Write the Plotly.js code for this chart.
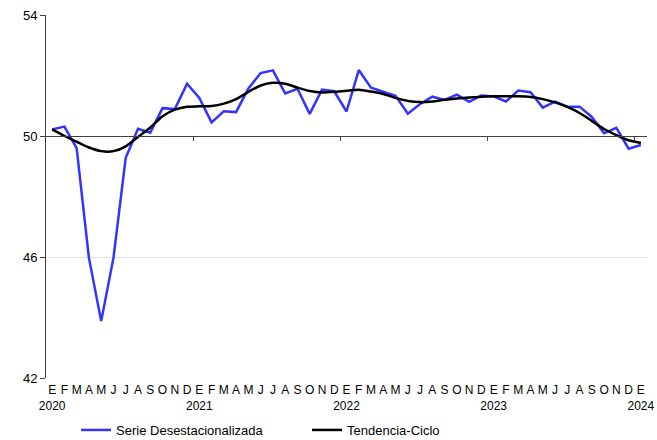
<!DOCTYPE html>
<html>
<head>
<meta charset="utf-8">
<script src="https://cdn.plot.ly/plotly-3.0.1.min.js"></script>
<style>html,body{margin:0;padding:0;background:#fff;}#chart{width:657px;height:440px;}</style>
</head>
<body>
<div id="chart"></div>
<script>
// Months Jan 2020 .. Jan 2024 (49 points)
const monthLetters = ['E','F','M','A','M','J','J','A','S','O','N','D'];
const years = ['2020','2021','2022','2023','2024'];

const serieDesestacionalizada = [
  50.22, 50.31, 49.6, 45.97, 43.88, 45.97, 49.28, 50.24, 50.11, 50.92, 50.89, 51.73,
  51.26, 50.45, 50.82, 50.79, 51.57, 52.08, 52.17, 51.41, 51.56, 50.73, 51.53, 51.48,
  50.81, 52.18, 51.6, 51.47, 51.33, 50.74, 51.06, 51.3, 51.19, 51.37, 51.13, 51.34,
  51.31, 51.14, 51.5, 51.45, 50.94, 51.14, 50.97, 50.97, 50.63, 50.09, 50.27, 49.58,
  49.70
];
const tendenciaCiclo = [
  50.22, 50.0, 49.81, 49.62, 49.5, 49.5, 49.66, 49.97, 50.28, 50.65, 50.87, 50.97,
  50.98, 50.99, 51.07, 51.22, 51.46, 51.67, 51.76, 51.73, 51.6, 51.49, 51.44, 51.46,
  51.5, 51.53, 51.47, 51.39, 51.26, 51.16, 51.12, 51.14, 51.2, 51.24, 51.27, 51.3,
  51.31, 51.31, 51.31, 51.29, 51.22, 51.11, 50.96, 50.76, 50.5, 50.23, 50.03, 49.86,
  49.77
];
const yTicks = [42, 46, 50, 54];

const xIdx = serieDesestacionalizada.map((_, i) => i);
const tickText = xIdx.map(i => {
  const m = monthLetters[i % 12];
  return (i % 12 === 0) ? m + '<br>' + years[Math.floor(i / 12)] : m;
});
const yearBoundaries = [11.5, 23.5, 35.5, 47.5];

const font = 'Liberation Sans, Arial, sans-serif';

const traces = [
  {x: xIdx, y: serieDesestacionalizada, type: 'scatter', mode: 'lines',
   name: 'Serie Desestacionalizada', line: {color: '#3333ff', width: 2.5}},
  {x: xIdx, y: tendenciaCiclo, type: 'scatter', mode: 'lines',
   name: 'Tendencia-Ciclo', line: {color: '#000000', width: 2.5, shape: 'spline', smoothing: 0.6}}
];

const layout = {
  width: 657, height: 440,
  margin: {l: 46, r: 10, t: 15, b: 62, autoexpand: false},
  paper_bgcolor: '#fff', plot_bgcolor: '#fff',
  font: {family: font, size: 13, color: '#000'},
  showlegend: true,
  legend: {orientation: 'h', x: 0.05, xanchor: 'left',
           yref: 'container', y: 10 / 440, yanchor: 'middle',
           font: {family: font, size: 13}, entrywidth: 186, entrywidthmode: 'pixels'},
  xaxis: {
    range: [-0.5, 48.5], tickmode: 'array', tickvals: xIdx, ticktext: tickText,
    tickangle: 0, automargin: false, ticklabelstandoff: 3,
    showline: false, ticks: '', showgrid: false, zeroline: false,
    tickfont: {family: font, size: 12}, fixedrange: true
  },
  xaxis2: {
    overlaying: 'x', anchor: 'free', position: (50 - 42) / (54 - 42), side: 'bottom',
    range: [-0.5, 48.5], tickmode: 'array', tickvals: yearBoundaries, automargin: false,
    showticklabels: false, ticks: 'outside', ticklen: 4, tickcolor: '#404040',
    showline: true, linecolor: '#404040', linewidth: 1, showgrid: false, zeroline: false
  },
  yaxis: {
    range: [42, 54], tickmode: 'array', tickvals: yTicks, automargin: false,
    showline: true, linecolor: '#404040', linewidth: 1,
    ticks: 'outside', ticklen: 5, tickcolor: '#404040',
    showgrid: true, gridcolor: '#e0e0e0', zeroline: false,
    tickfont: {family: font, size: 13}
  }
};

// invisible helper trace so the crossing axis at 50 is drawn
traces.push({x: [0], y: [50], xaxis: 'x2', yaxis: 'y', mode: 'markers',
             marker: {opacity: 0}, showlegend: false, hoverinfo: 'skip'});

Plotly.newPlot('chart', traces, layout, {staticPlot: true});
</script>
</body>
</html>
